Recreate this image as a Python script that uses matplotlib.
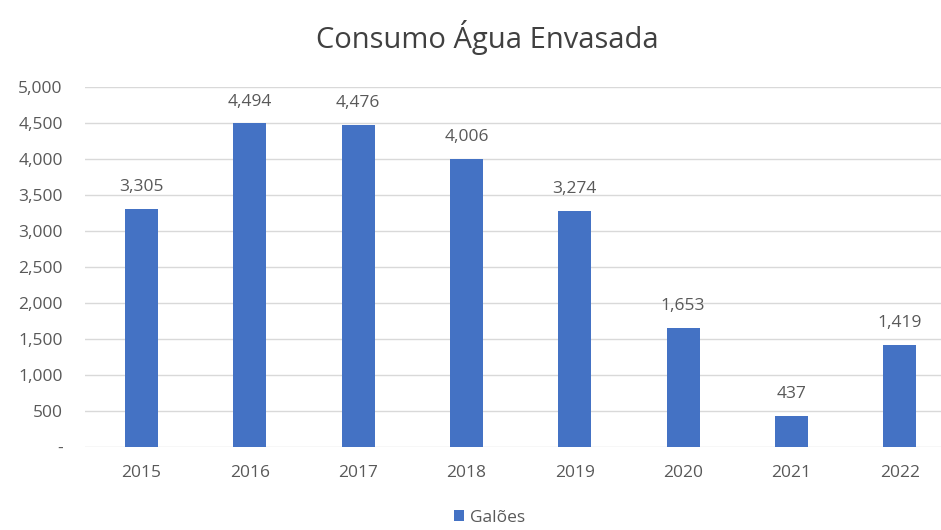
import matplotlib.pyplot as plt
from matplotlib.ticker import FuncFormatter

plt.rcParams['font.family'] = ['Open Sans', 'DejaVu Sans']

anos = ['2015', '2016', '2017', '2018', '2019', '2020', '2021', '2022']
galoes = [3305, 4494, 4476, 4006, 3274, 1653, 437, 1419]

azul = '#4472C4'
texto = '#595959'

fig = plt.figure(figsize=(9.41, 5.30), dpi=100)
ax = fig.add_axes([0.0903, 0.1566, 0.9097, 0.6792])

pos = list(range(len(anos)))
barras = ax.bar(pos, galoes, width=0.305, color=azul, label='Galões', zorder=3)

for x, v in zip(pos, galoes):
    ax.annotate(f'{v:,}', (x, v), xytext=(0, 10), textcoords='offset points',
                ha='center', va='bottom', fontsize=12.5, color=texto)

ax.set_xlim(-0.52, 7.38)
ax.set_ylim(0, 5000)
ax.set_yticks(range(0, 5001, 500))
ax.yaxis.set_major_formatter(FuncFormatter(lambda v, p: '-' if v == 0 else f'{int(v):,}'))
ax.set_xticks(pos)
ax.set_xticklabels(anos)

ax.grid(axis='y', color='#D9D9D9', linewidth=1, zorder=0)
for s in ax.spines.values():
    s.set_visible(False)
ax.tick_params(axis='both', length=0, labelsize=12.5, colors=texto)
ax.tick_params(axis='x', pad=13)
ax.tick_params(axis='y', pad=16)

fig.text(0.518, 0.93, 'Consumo Água Envasada', ha='center', va='center',
         fontsize=21, color='#404040')

fig.legend(handles=[barras], loc='center', bbox_to_anchor=(0.52, 0.023),
           frameon=False, fontsize=12.5, handlelength=0.6, handleheight=0.6,
           handletextpad=0.3, labelcolor=texto)

fig.savefig('out.png', dpi=100)
